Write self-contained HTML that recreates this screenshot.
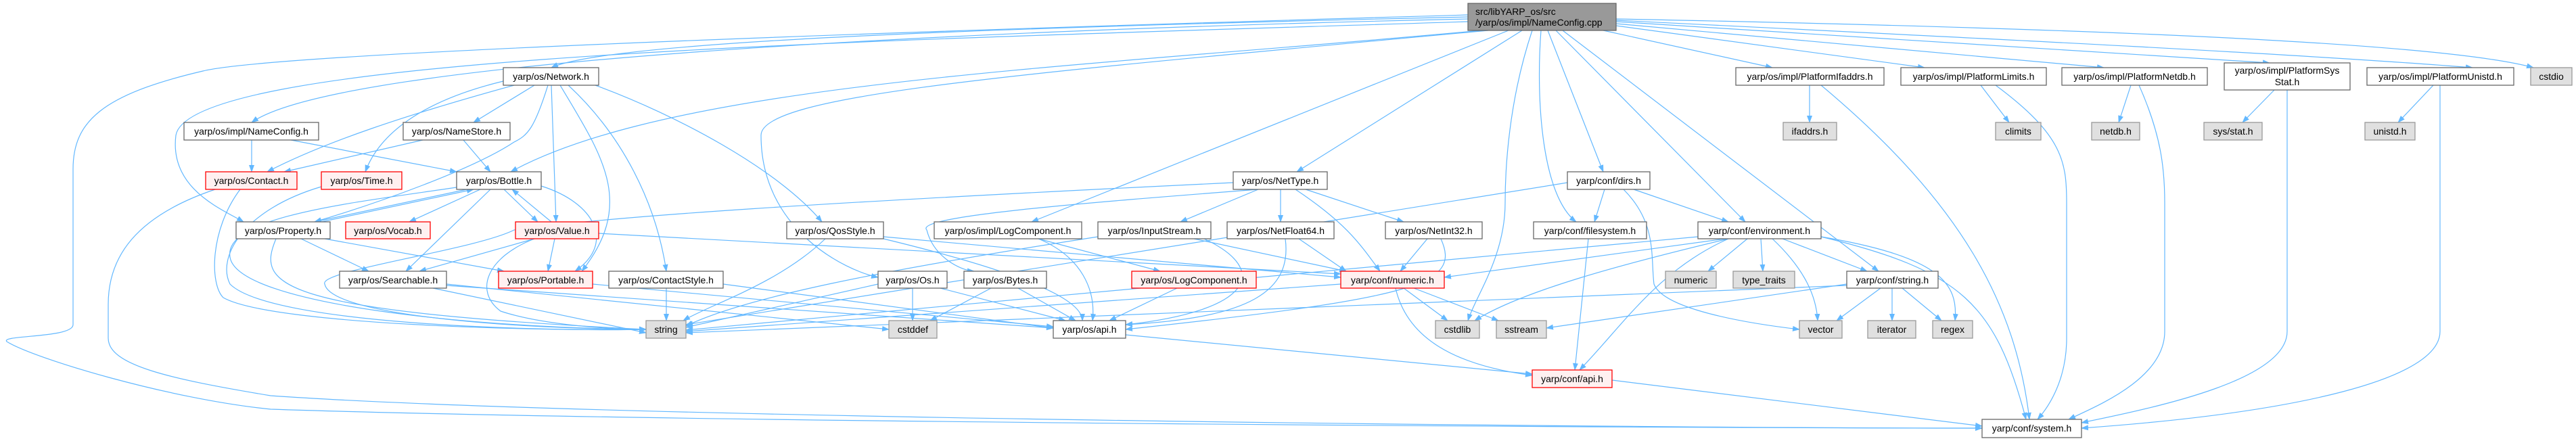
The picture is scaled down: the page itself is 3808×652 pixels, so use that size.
<!DOCTYPE html>
<html><head><meta charset="utf-8">
<style>
html,body{margin:0;padding:0;background:#fff;}
svg{display:block;}
text{font-family:"Liberation Sans",sans-serif;font-size:14px;fill:#000;}
.w{fill:#fff;stroke:#666;stroke-width:1.3;}
.r{fill:#fff0f0;stroke:#f00;stroke-width:1.3;}
.g{fill:#e0e0e0;stroke:#999;stroke-width:1.3;}
.e path{fill:none;stroke:#63b8ff;stroke-width:1.2;marker-end:url(#a);}
</style></head><body>
<svg width="3808" height="652" viewBox="0 0 3808 652" xmlns="http://www.w3.org/2000/svg">
<defs><marker id="a" markerWidth="11" markerHeight="8" refX="10" refY="4" orient="auto" markerUnits="userSpaceOnUse"><path d="M0,0 L11,4 L0,8 z" fill="#63b8ff"/></marker></defs>
<g class="e">
<path d="M2170,25 C1500,40 900,60 815,100"/>
<path d="M2170,28 C1400,45 500,90 372,181"/>
<path d="M2170,32 C1300,60 280,80 260,200 C250,280 330,310 360,328"/>
<path d="M2190,45 C1600,100 1000,120 755,254"/>
<path d="M2200,45 C1500,110 1125,140 1125,200 C1125,340 1250,400 1298,410"/>
<path d="M2230,45 L1525,328"/>
<path d="M2250,45 L1917,254"/>
<path d="M2265,45 C2230,150 2225,250 2225,300 C2225,380 2180,440 2170,474"/>
<path d="M2278,45 C2270,150 2280,290 2330,328"/>
<path d="M2288,45 L2370,254"/>
<path d="M2300,45 L2580,328"/>
<path d="M2310,45 L2777,401"/>
<path d="M2370,45 L2620,100"/>
<path d="M2389,38 L2845,100"/>
<path d="M2389,35 L3110,100"/>
<path d="M2389,32 L3355,93"/>
<path d="M2389,30 C3000,60 3400,80 3655,100"/>
<path d="M2389,28 C3000,40 3600,60 3745,100"/>
<path d="M2170,22 C1200,50 400,80 300,105 C150,140 108,180 108,250 L108,480 C108,500 0,495 10,505 C50,530 250,590 400,605 C1000,625 2500,633 2930,633"/>
<path d="M790,126 L700,181"/>
<path d="M760,126 C600,170 480,210 395,254"/>
<path d="M744,120 C620,150 560,200 540,254"/>
<path d="M810,126 C790,190 780,200 760,210 C700,250 560,300 465,328"/>
<path d="M815,126 L822,328"/>
<path d="M828,126 C890,230 940,300 860,401"/>
<path d="M840,126 C920,200 970,300 985,401"/>
<path d="M880,126 C1000,170 1150,250 1215,328"/>
<path d="M372,207 L372,254"/>
<path d="M430,207 L675,254"/>
<path d="M625,207 L420,254"/>
<path d="M685,207 L725,254"/>
<path d="M355,280 C310,340 310,420 330,440 C400,480 800,490 955,487"/>
<path d="M318,280 C200,320 160,380 160,450 L160,500 C160,540 250,560 400,585 C900,620 2500,633 2930,633"/>
<path d="M475,276 C360,310 320,380 340,420 C400,480 800,490 955,487"/>
<path d="M690,280 L465,328"/>
<path d="M475,328 L700,280"/>
<path d="M710,280 L605,328"/>
<path d="M745,280 L795,328"/>
<path d="M815,328 L757,280"/>
<path d="M725,280 L600,401"/>
<path d="M800,275 C880,300 910,360 850,401"/>
<path d="M675,277 C520,300 330,320 340,380 C350,450 700,485 955,487"/>
<path d="M445,353 L545,401"/>
<path d="M480,353 L745,401"/>
<path d="M408,353 C380,420 400,460 955,487"/>
<path d="M790,353 L620,401"/>
<path d="M820,353 L810,401"/>
<path d="M885,345 L1982,405"/>
<path d="M790,353 C720,380 700,430 740,460 C800,480 900,487 955,487"/>
<path d="M640,426 L955,492"/>
<path d="M660,420 L1314,487"/>
<path d="M660,422 L1557,485"/>
<path d="M876,420 L1557,483"/>
<path d="M985,426 L985,474"/>
<path d="M1069,420 L1557,485"/>
<path d="M1220,353 C1150,420 1050,450 1010,474"/>
<path d="M1306,353 C1500,400 1600,440 1600,474"/>
<path d="M1306,350 L1982,410"/>
<path d="M1535,353 L1715,401"/>
<path d="M1535,353 C1600,380 1620,430 1615,474"/>
<path d="M1623,350 C1300,400 1100,440 1014,482"/>
<path d="M1765,353 L1990,401"/>
<path d="M1780,353 C1880,400 1850,460 1664,480"/>
<path d="M1823,270 C1200,300 900,320 760,340 C700,370 470,400 480,420 C490,470 800,487 955,487"/>
<path d="M1860,280 L1745,328"/>
<path d="M1893,280 L1893,328"/>
<path d="M1930,280 L2075,328"/>
<path d="M1915,280 C1990,330 2010,360 2040,401"/>
<path d="M1860,280 C1600,300 1350,320 1370,340 C1380,380 1420,400 1440,401"/>
<path d="M1920,353 L1990,401"/>
<path d="M1900,353 C1910,430 1850,470 1664,480"/>
<path d="M2110,353 L2070,401"/>
<path d="M2130,353 C2160,420 2100,440 1664,487"/>
<path d="M1349,426 L1349,474"/>
<path d="M1390,426 L1575,474"/>
<path d="M1298,420 L1014,484"/>
<path d="M1465,426 L1375,474"/>
<path d="M1505,426 L1590,474"/>
<path d="M1740,426 L1640,474"/>
<path d="M2075,426 L2140,474"/>
<path d="M2090,426 L2215,474"/>
<path d="M2063,426 C2080,500 2150,540 2265,555"/>
<path d="M1982,420 L1014,490"/>
<path d="M1664,495 L2265,553"/>
<path d="M2317,270 L1014,480"/>
<path d="M2372,280 L2357,328"/>
<path d="M2415,280 L2555,328"/>
<path d="M2400,280 C2450,330 2440,380 2445,420 C2460,460 2600,480 2660,487"/>
<path d="M2348,353 L2328,547"/>
<path d="M2550,353 L2135,410"/>
<path d="M2555,353 C2400,390 2250,430 2180,474"/>
<path d="M2555,353 C2450,400 2400,480 2335,547"/>
<path d="M2583,353 L2525,401"/>
<path d="M2603,353 L2606,401"/>
<path d="M2620,353 C2670,400 2685,440 2687,474"/>
<path d="M2635,353 L2760,401"/>
<path d="M2692,350 C2870,380 2895,420 2890,474"/>
<path d="M2692,350 C2900,400 2950,450 2995,620"/>
<path d="M2510,350 L1014,488"/>
<path d="M2780,426 L2715,474"/>
<path d="M2797,426 L2797,474"/>
<path d="M2812,426 L2870,474"/>
<path d="M2730,420 L2286,485"/>
<path d="M2730,422 L1014,492"/>
<path d="M2383,562 L2930,630"/>
<path d="M2675,126 L2675,181"/>
<path d="M2692,126 C2900,300 2980,450 3000,620"/>
<path d="M2928,126 L2970,181"/>
<path d="M2950,126 C3050,200 3055,240 3055,300 L3055,500 C3055,560 3030,600 3012,620"/>
<path d="M3150,126 L3132,181"/>
<path d="M3162,126 C3195,200 3200,250 3200,300 L3200,490 C3200,560 3100,600 3058,620"/>
<path d="M3362,133 L3315,181"/>
<path d="M3381,133 L3381,490 C3381,560 3200,600 3077,625"/>
<path d="M3597,126 L3545,181"/>
<path d="M3607,126 L3607,490 C3607,560 3400,610 3077,633"/>
</g>
<g>
<rect x="2170" y="5" width="219" height="40" fill="#999" stroke="#666" stroke-width="1.3"/>
<text x="2181" y="22">src/libYARP_os/src</text><text x="2181" y="38">/yarp/os/impl/NameConfig.cpp</text>

<rect class="w" x="744" y="100" width="141" height="26"/><text x="814.5" y="118" text-anchor="middle">yarp/os/Network.h</text>
<rect class="w" x="272" y="181" width="199" height="26"/><text x="371.5" y="199" text-anchor="middle">yarp/os/impl/NameConfig.h</text>
<rect class="w" x="596" y="181" width="158" height="26"/><text x="675" y="199" text-anchor="middle">yarp/os/NameStore.h</text>
<rect class="r" x="304" y="254" width="135" height="26"/><text x="371.5" y="272" text-anchor="middle">yarp/os/Contact.h</text>
<rect class="r" x="475" y="254" width="119" height="26"/><text x="534.5" y="272" text-anchor="middle">yarp/os/Time.h</text>
<rect class="w" x="675" y="254" width="125" height="26"/><text x="737.5" y="272" text-anchor="middle">yarp/os/Bottle.h</text>
<rect class="w" x="349" y="328" width="139" height="25"/><text x="418.5" y="346" text-anchor="middle">yarp/os/Property.h</text>
<rect class="r" x="511" y="328" width="125" height="25"/><text x="573.5" y="346" text-anchor="middle">yarp/os/Vocab.h</text>
<rect class="r" x="762" y="328" width="123" height="25"/><text x="823.5" y="346" text-anchor="middle">yarp/os/Value.h</text>
<rect class="w" x="502" y="401" width="158" height="25"/><text x="581" y="419" text-anchor="middle">yarp/os/Searchable.h</text>
<rect class="r" x="737" y="401" width="139" height="25"/><text x="806.5" y="419" text-anchor="middle">yarp/os/Portable.h</text>
<rect class="w" x="900" y="401" width="169" height="25"/><text x="984.5" y="419" text-anchor="middle">yarp/os/ContactStyle.h</text>
<rect class="g" x="955" y="474" width="59" height="26"/><text x="984.5" y="492" text-anchor="middle">string</text>
<rect class="w" x="1823" y="254" width="139" height="26"/><text x="1892.5" y="272" text-anchor="middle">yarp/os/NetType.h</text>
<rect class="w" x="1163" y="328" width="143" height="25"/><text x="1234.5" y="346" text-anchor="middle">yarp/os/QosStyle.h</text>
<rect class="w" x="1381" y="328" width="218" height="25"/><text x="1490" y="346" text-anchor="middle">yarp/os/impl/LogComponent.h</text>
<rect class="w" x="1623" y="328" width="167" height="25"/><text x="1706.5" y="346" text-anchor="middle">yarp/os/InputStream.h</text>
<rect class="w" x="1814" y="328" width="158" height="25"/><text x="1893" y="346" text-anchor="middle">yarp/os/NetFloat64.h</text>
<rect class="w" x="1298" y="401" width="102" height="25"/><text x="1349" y="419" text-anchor="middle">yarp/os/Os.h</text>
<rect class="w" x="1425" y="401" width="122" height="25"/><text x="1486" y="419" text-anchor="middle">yarp/os/Bytes.h</text>
<rect class="r" x="1673" y="401" width="184" height="25"/><text x="1765" y="419" text-anchor="middle">yarp/os/LogComponent.h</text>
<rect class="r" x="1982" y="401" width="153" height="25"/><text x="2058.5" y="419" text-anchor="middle">yarp/conf/numeric.h</text>
<rect class="g" x="1314" y="474" width="71" height="26"/><text x="1349.5" y="492" text-anchor="middle">cstddef</text>
<rect class="w" x="1557" y="474" width="107" height="26"/><text x="1610.5" y="492" text-anchor="middle">yarp/os/api.h</text>
<rect class="w" x="2566" y="100" width="219" height="26"/><text x="2675.5" y="118" text-anchor="middle">yarp/os/impl/PlatformIfaddrs.h</text>
<rect class="w" x="2810" y="100" width="215" height="26"/><text x="2917.5" y="118" text-anchor="middle">yarp/os/impl/PlatformLimits.h</text>
<rect class="g" x="2636" y="181" width="79" height="26"/><text x="2675.5" y="199" text-anchor="middle">ifaddrs.h</text>
<rect class="g" x="2950" y="181" width="67" height="26"/><text x="2983.5" y="199" text-anchor="middle">climits</text>
<rect class="w" x="2317" y="254" width="122" height="26"/><text x="2378" y="272" text-anchor="middle">yarp/conf/dirs.h</text>
<rect class="w" x="2048" y="328" width="143" height="25"/><text x="2119.5" y="346" text-anchor="middle">yarp/os/NetInt32.h</text>
<rect class="w" x="2267" y="328" width="167" height="25"/><text x="2350.5" y="346" text-anchor="middle">yarp/conf/filesystem.h</text>
<rect class="w" x="2510" y="328" width="182" height="25"/><text x="2601" y="346" text-anchor="middle">yarp/conf/environment.h</text>
<rect class="g" x="2462" y="401" width="75" height="25"/><text x="2499.5" y="419" text-anchor="middle">numeric</text>
<rect class="g" x="2562" y="401" width="91" height="25"/><text x="2607.5" y="419" text-anchor="middle">type_traits</text>
<rect class="w" x="2730" y="401" width="135" height="25"/><text x="2797.5" y="419" text-anchor="middle">yarp/conf/string.h</text>
<rect class="g" x="2122" y="474" width="65" height="26"/><text x="2154.5" y="492" text-anchor="middle">cstdlib</text>
<rect class="g" x="2212" y="474" width="74" height="26"/><text x="2249" y="492" text-anchor="middle">sstream</text>
<rect class="g" x="2660" y="474" width="63" height="26"/><text x="2691.5" y="492" text-anchor="middle">vector</text>
<rect class="g" x="2761" y="474" width="71" height="26"/><text x="2796.5" y="492" text-anchor="middle">iterator</text>
<rect class="g" x="2857" y="474" width="59" height="26"/><text x="2886.5" y="492" text-anchor="middle">regex</text>
<rect class="r" x="2265" y="547" width="118" height="26"/><text x="2324" y="565" text-anchor="middle">yarp/conf/api.h</text>
<rect class="w" x="2930" y="620" width="147" height="27"/><text x="3003.5" y="638" text-anchor="middle">yarp/conf/system.h</text>
<rect class="w" x="3048" y="100" width="215" height="26"/><text x="3155.5" y="118" text-anchor="middle">yarp/os/impl/PlatformNetdb.h</text>
<rect class="g" x="3092" y="181" width="71" height="26"/><text x="3127.5" y="199" text-anchor="middle">netdb.h</text>
<rect class="w" x="3288" y="93" width="186" height="40"/><text x="3381" y="109" text-anchor="middle">yarp/os/impl/PlatformSys</text><text x="3381" y="126" text-anchor="middle">Stat.h</text>
<rect class="g" x="3258" y="181" width="86" height="26"/><text x="3301" y="199" text-anchor="middle">sys/stat.h</text>
<rect class="w" x="3499" y="100" width="217" height="26"/><text x="3607.5" y="118" text-anchor="middle">yarp/os/impl/PlatformUnistd.h</text>
<rect class="g" x="3496" y="181" width="74" height="26"/><text x="3533" y="199" text-anchor="middle">unistd.h</text>
<rect class="g" x="3741" y="100" width="61" height="26"/><text x="3771.5" y="118" text-anchor="middle">cstdio</text>
</g>
</svg>
</body></html>
